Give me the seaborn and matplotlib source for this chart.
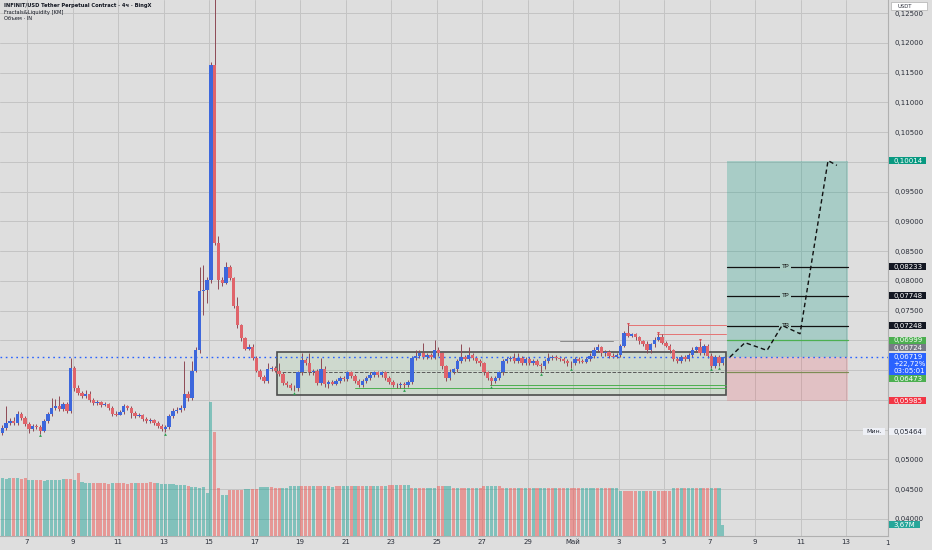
import matplotlib
matplotlib.use("Agg")
import numpy as np
import pandas as pd
import matplotlib.pyplot as plt
import seaborn as sns
from matplotlib.patches import Rectangle

# ---------------- data (4h candles, INFINIT/USDT) ----------------
first_open = 0.0544
closes = [
    0.0553, 0.0561, 0.0565, 0.0561, 0.0576, 0.0570, 0.0560, 0.0551, 0.0556, 0.0555,
    0.0548, 0.0565, 0.0576, 0.0587, 0.0590, 0.0585, 0.0593, 0.0581, 0.0654, 0.0619,
    0.0612, 0.0607, 0.0610, 0.0600, 0.0595, 0.0597, 0.0592, 0.0593, 0.0587, 0.0576,
    0.0575, 0.0580, 0.0590, 0.0587, 0.0578, 0.0573, 0.0575, 0.0568, 0.0565, 0.0566,
    0.0561, 0.0556, 0.0551, 0.0555, 0.0573, 0.0581, 0.0583, 0.0587, 0.0610, 0.0603,
    0.0649, 0.0683, 0.0782, 0.0784, 0.0801, 0.1163, 0.0863, 0.0801, 0.0797, 0.0823,
    0.0804, 0.0758, 0.0725, 0.0703, 0.0686, 0.0689, 0.0671, 0.0649, 0.0639, 0.0632,
    0.0652, 0.0654, 0.0649, 0.0644, 0.0629, 0.0625, 0.0620, 0.0619, 0.0646, 0.0667,
    0.0662, 0.0646, 0.0649, 0.0629, 0.0652, 0.0627, 0.0630, 0.0627, 0.0632, 0.0637,
    0.0635, 0.0646, 0.0640, 0.0632, 0.0625, 0.0632, 0.0637, 0.0642, 0.0646, 0.0642,
    0.0646, 0.0637, 0.0630, 0.0625, 0.0624, 0.0627, 0.0625, 0.0630, 0.0671, 0.0674,
    0.0678, 0.0672, 0.0676, 0.0672, 0.0684, 0.0678, 0.0656, 0.0637, 0.0647, 0.0651,
    0.0666, 0.0672, 0.0669, 0.0676, 0.0671, 0.0666, 0.0661, 0.0646, 0.0637, 0.0632,
    0.0637, 0.0646, 0.0666, 0.0669, 0.0671, 0.0666, 0.0671, 0.0662, 0.0669, 0.0662,
    0.0666, 0.0659, 0.0656, 0.0666, 0.0671, 0.0672, 0.0671, 0.0669, 0.0666, 0.0661,
    0.0662, 0.0669, 0.0666, 0.0664, 0.0669, 0.0674, 0.0684, 0.0688, 0.0678, 0.0681,
    0.0674, 0.0672, 0.0676, 0.0691, 0.0713, 0.0708, 0.0710, 0.0705, 0.0698, 0.0694,
    0.0683, 0.0693, 0.0701, 0.0706, 0.0696, 0.0691, 0.0683, 0.0669, 0.0666, 0.0672,
    0.0669, 0.0676, 0.0684, 0.0688, 0.0679, 0.0691, 0.0674, 0.0657, 0.0672, 0.0662,
    0.06719,
]
highs = [
    0.0558, 0.0590, 0.0570, 0.0571, 0.0581, 0.0580, 0.0573, 0.0563, 0.0560, 0.0560,
    0.0558, 0.0568, 0.0580, 0.0603, 0.0602, 0.0607, 0.0597, 0.0597, 0.0671, 0.0657,
    0.0624, 0.0615, 0.0617, 0.0614, 0.0603, 0.0600, 0.0598, 0.0597, 0.0595, 0.0590,
    0.0581, 0.0583, 0.0593, 0.0592, 0.0590, 0.0581, 0.0578, 0.0576, 0.0571, 0.0570,
    0.0568, 0.0565, 0.0560, 0.0558, 0.0576, 0.0587, 0.0588, 0.0592, 0.0666, 0.0614,
    0.0666, 0.0688, 0.0823, 0.0826, 0.0807, 0.1168, 0.1320, 0.0876, 0.0807, 0.0831,
    0.0826, 0.0807, 0.0772, 0.0728, 0.0706, 0.0694, 0.0694, 0.0674, 0.0652, 0.0642,
    0.0662, 0.0657, 0.0657, 0.0662, 0.0647, 0.0632, 0.0629, 0.0624, 0.0649, 0.0679,
    0.0671, 0.0679, 0.0652, 0.0652, 0.0671, 0.0656, 0.0634, 0.0634, 0.0635, 0.0640,
    0.0640, 0.0649, 0.0649, 0.0644, 0.0635, 0.0635, 0.0640, 0.0646, 0.0649, 0.0649,
    0.0649, 0.0649, 0.0640, 0.0634, 0.0629, 0.0630, 0.0630, 0.0634, 0.0674, 0.0683,
    0.0683, 0.0696, 0.0679, 0.0679, 0.0701, 0.0688, 0.0681, 0.0659, 0.0651, 0.0654,
    0.0669, 0.0694, 0.0676, 0.0689, 0.0679, 0.0674, 0.0669, 0.0664, 0.0649, 0.0640,
    0.0640, 0.0649, 0.0669, 0.0672, 0.0674, 0.0679, 0.0679, 0.0674, 0.0672, 0.0672,
    0.0669, 0.0669, 0.0662, 0.0669, 0.0679, 0.0676, 0.0676, 0.0674, 0.0672, 0.0669,
    0.0666, 0.0672, 0.0672, 0.0669, 0.0672, 0.0678, 0.0688, 0.0694, 0.0691, 0.0684,
    0.0684, 0.0678, 0.0679, 0.0694, 0.0716, 0.0725, 0.0713, 0.0713, 0.0708, 0.0701,
    0.0698, 0.0696, 0.0705, 0.0711, 0.0710, 0.0699, 0.0694, 0.0686, 0.0672, 0.0676,
    0.0676, 0.0679, 0.0688, 0.0691, 0.0699, 0.0694, 0.0694, 0.0678, 0.0676, 0.0676,
    0.0672,
]
lows = [
    0.0541, 0.0549, 0.0558, 0.0558, 0.0558, 0.0566, 0.0556, 0.0544, 0.0548, 0.0551,
    0.0543, 0.0546, 0.0561, 0.0573, 0.0583, 0.0581, 0.0581, 0.0578, 0.0578, 0.0615,
    0.0608, 0.0603, 0.0603, 0.0597, 0.0592, 0.0592, 0.0588, 0.0590, 0.0583, 0.0573,
    0.0573, 0.0575, 0.0576, 0.0583, 0.0570, 0.0570, 0.0571, 0.0565, 0.0561, 0.0561,
    0.0558, 0.0553, 0.0548, 0.0546, 0.0551, 0.0570, 0.0578, 0.0580, 0.0583, 0.0598,
    0.0600, 0.0646, 0.0679, 0.0742, 0.0762, 0.0797, 0.0860, 0.0787, 0.0792, 0.0794,
    0.0801, 0.0755, 0.0721, 0.0699, 0.0683, 0.0683, 0.0667, 0.0646, 0.0635, 0.0629,
    0.0629, 0.0649, 0.0646, 0.0640, 0.0625, 0.0622, 0.0617, 0.0614, 0.0615, 0.0642,
    0.0659, 0.0642, 0.0642, 0.0625, 0.0625, 0.0622, 0.0619, 0.0624, 0.0624, 0.0629,
    0.0632, 0.0632, 0.0637, 0.0629, 0.0622, 0.0622, 0.0629, 0.0634, 0.0639, 0.0639,
    0.0639, 0.0634, 0.0627, 0.0622, 0.0620, 0.0620, 0.0619, 0.0622, 0.0627, 0.0667,
    0.0671, 0.0669, 0.0669, 0.0669, 0.0669, 0.0674, 0.0652, 0.0632, 0.0634, 0.0644,
    0.0647, 0.0662, 0.0666, 0.0666, 0.0667, 0.0662, 0.0657, 0.0642, 0.0634, 0.0624,
    0.0629, 0.0634, 0.0642, 0.0662, 0.0666, 0.0662, 0.0662, 0.0659, 0.0659, 0.0659,
    0.0659, 0.0656, 0.0646, 0.0652, 0.0662, 0.0667, 0.0667, 0.0666, 0.0662, 0.0657,
    0.0654, 0.0659, 0.0662, 0.0661, 0.0661, 0.0666, 0.0671, 0.0681, 0.0674, 0.0674,
    0.0671, 0.0671, 0.0671, 0.0672, 0.0688, 0.0705, 0.0705, 0.0701, 0.0694, 0.0691,
    0.0679, 0.0679, 0.0689, 0.0698, 0.0693, 0.0688, 0.0679, 0.0666, 0.0662, 0.0662,
    0.0666, 0.0666, 0.0672, 0.0681, 0.0676, 0.0676, 0.0671, 0.0654, 0.0654, 0.0656,
    0.0659,
]
volumes_m = [
    19.3, 19.1, 19.4, 19.2, 19.3, 19.0, 19.2,
    18.7, 18.8, 18.6, 18.7, 18.5, 18.7, 18.8, 18.6, 18.7,
    19.0, 18.9, 19.1, 18.8, 21.0,
    17.9, 17.8, 17.7, 17.6, 17.7, 17.8, 17.6, 17.5, 17.7, 17.8, 17.7, 17.6,
    17.5, 17.7, 17.8, 17.6, 17.7, 17.8, 17.9, 17.7, 17.6, 17.5, 17.4, 17.3,
    17.2, 17.0, 17.1, 16.9, 16.8,
    16.3, 16.2, 16.1, 16.2, 14.3, 44.7, 34.7, 16.0, 13.7, 13.8,
    15.2, 15.3, 15.4, 15.3, 15.6, 15.7, 15.7, 15.8, 16.3, 16.2, 16.4, 16.3,
    16.0, 16.1, 16.0, 15.9,
    16.6, 16.7, 16.8, 16.7, 16.6, 16.7, 16.8, 16.7, 16.6, 16.7, 16.6, 16.5,
    16.7, 16.8, 16.7, 16.6, 16.7, 16.7, 16.8, 16.6, 16.7,
    16.7, 16.8, 16.7, 16.6, 16.7,
    17.0, 17.1, 17.0, 16.9, 17.0, 17.1,
    16.0, 16.1, 16.0, 15.9, 16.0, 16.1, 16.0,
    16.7, 16.8, 16.6, 16.7,
    16.0, 16.1, 16.0, 15.9, 16.0, 16.1, 16.0, 16.0,
    16.7, 16.6, 16.8, 16.7, 16.6,
    16.0, 16.1, 16.0, 15.9, 16.0, 16.1, 16.0, 15.9, 16.0, 16.1, 16.0, 16.0,
    15.9, 16.0, 16.1, 16.0, 15.9, 16.0, 16.1, 16.0, 16.0, 15.9, 16.0, 16.1,
    16.0, 15.9, 16.0, 16.1, 16.0, 16.0, 15.9,
    15.0, 15.1, 15.0, 14.9, 15.0, 15.1, 15.0, 14.9, 15.0, 15.1, 15.0, 15.0, 14.9, 15.0,
    16.0, 16.1, 16.0, 15.9, 16.0, 16.1, 16.0, 15.9, 16.0, 16.1, 16.0, 16.0, 15.9,
    3.67,
]
volume_dirs = (
    "gggrgrrggrrggggggrrg" "rgggrrrrrgrrrrrgrrrr" "rggggggggrggggggrrgg"
    "rrrrggrrgggrrrgggggr" "rrgrrgrgrrggrgrrgrgg" "rgrrgrggrgrrgggrrggr"
    "grrgrgrrgggrrgrrgrgr" "grggrrgrrgrrrggggrgr" "rgggrrrrggrrgrrrrgrg"
    "rggrgrrgrgg"
)
first_candle_day = 5.9167      # April day number of first candle centre
candles_per_day = 6
fractal_low_idx = [10, 43, 77, 106, 129, 142, 150, 187, 189]
fractal_high_idx = [165, 173, 184]

# range box and fractal/liquidity levels
box_days = (17.99, 37.73)
box_prices = (0.0608, 0.0681)
liq_levels = [  # (start_day, end_day, price, color, style)
    (17.99, 37.73, 0.0646, "#5a5a5a", "--"),
    (21.42, 37.73, 0.0619, "#4caf50", "-"),
    (27.35, 37.73, 0.0624, "#4caf50", "-"),
    (30.43, 32.76, 0.0698, "#8a8a8a", "-"),
    (33.42, 37.73, 0.0725, "#e57373", "-"),
    (34.69, 37.73, 0.0711, "#e57373", "-"),
]

# long position tool
pos_days = (37.77, 43.09)
entry_price = 0.06724
target_price = 0.10014
stop_price = 0.05985
tp_levels = [0.08233, 0.07748, 0.07248]
tp_names = ["TP", "TP", "TR"]
level_green = 0.06999
level_olive = 0.06473
last_price = 0.06719

# projected path
proj_days = [37.90, 38.56, 39.53, 40.19, 40.98, 42.21, 42.60]
proj_prices = [0.06719, 0.0696, 0.0683, 0.0725, 0.0711, 0.1002, 0.0994]

date_ticks = [7, 9, 11, 13, 15, 17, 19, 21, 23, 25, 27, 29, 31, 33, 35, 37, 39, 41, 43]
date_labels = ["7", "9", "11", "13", "15", "17", "19", "21", "23", "25", "27", "29",
               "Май", "3", "5", "7", "9", "11", "13"]
price_ticks = [0.125, 0.12, 0.115, 0.11, 0.105, 0.10, 0.095, 0.09, 0.085, 0.08,
               0.075, 0.07, 0.065, 0.06, 0.055, 0.05, 0.045, 0.04]
hidden_ticks = [0.10, 0.07, 0.065, 0.06, 0.055]

# ---------------- styling ----------------
BG = "#dedede"
GRID = "#c4c4c4"
UP = "#3d67dc"
DOWN = "#e0646b"
WICK = "#8e4a55"
TXT = "#2a2e39"

sns.set_theme(style="whitegrid")
plt.rcParams["font.family"] = ["DejaVu Sans"]

W, H = 932, 550
fig = plt.figure(figsize=(W / 100, H / 100), dpi=100, facecolor=BG)
ax = fig.add_axes([0, 14 / H, 888 / W, 536 / H])
ax.set_facecolor(BG)
ax2 = ax.twinx()
ax2.patch.set_visible(False)

n = min(len(closes), len(highs), len(lows), len(volumes_m), len(volume_dirs))
opens = [first_open] + closes[:n - 1]
days = [first_candle_day + i / candles_per_day for i in range(n)]
df = pd.DataFrame({
    "day": days, "open": opens, "close": closes[:n], "high": highs[:n],
    "low": lows[:n], "vol": volumes_m[:n],
    "vdir": ["up" if c == "g" else "down" for c in volume_dirs[:n]],
})
df["up"] = df["close"] >= df["open"]
df["body_lo"] = df[["open", "close"]].min(axis=1)
df["body_h"] = (df["close"] - df["open"]).abs().clip(lower=0.00009)
df["wlo"] = df[["low", "open", "close"]].min(axis=1)
df["whi"] = df[["high", "open", "close"]].max(axis=1)

# volume (seaborn bars on native numeric scale)
sns.barplot(data=df, x="day", y="vol", hue="vdir", native_scale=True, dodge=False,
            palette={"up": (38 / 255, 166 / 255, 154 / 255, 0.5),
                     "down": (239 / 255, 83 / 255, 80 / 255, 0.5)},
            width=0.8, errorbar=None, legend=False, ax=ax2, saturation=1)
for p in ax2.patches:
    p.set_edgecolor("none")
ax2.set_ylim(0, 536 / 3.0)
ax2.set_yticks([])
ax2.set_ylabel("")
ax2.set_xlabel("")
for s in ax2.spines.values():
    s.set_visible(False)

# candles
ax.vlines(df["day"], df["wlo"], df["whi"], color=WICK, lw=0.7, zorder=3)
ax.bar(df["day"], df["body_h"], bottom=df["body_lo"], width=0.15,
       color=np.where(df["up"], UP, DOWN), edgecolor="none", zorder=4)

# fractal markers
ax.scatter(df["day"].iloc[fractal_low_idx], df["low"].iloc[fractal_low_idx] - 0.0003,
           marker="^", s=4, color="#2e9e4f", zorder=5, linewidths=0)
ax.scatter(df["day"].iloc[fractal_high_idx], df["high"].iloc[fractal_high_idx] + 0.0002,
           marker="v", s=4, color="#d9434b", zorder=5, linewidths=0)

# range box and levels
ax.add_patch(Rectangle((box_days[0], box_prices[0]), box_days[1] - box_days[0],
                       box_prices[1] - box_prices[0], facecolor=(0.45, 0.75, 0.45, 0.14),
                       edgecolor="#4d4d4d", lw=1.2, zorder=2))
for d0, d1, pr, col, ls in liq_levels:
    ax.plot([d0, d1], [pr, pr], color=col, lw=0.7, ls=ls, zorder=2.5)

# position tool
ax.add_patch(Rectangle((pos_days[0], entry_price), pos_days[1] - pos_days[0],
                       target_price - entry_price,
                       facecolor=(8 / 255, 153 / 255, 129 / 255, 0.25), edgecolor="none", zorder=1.5))
ax.add_patch(Rectangle((pos_days[0], stop_price), pos_days[1] - pos_days[0],
                       entry_price - stop_price,
                       facecolor=(242 / 255, 54 / 255, 69 / 255, 0.17), edgecolor="none", zorder=1.5))
mid_day = 40.32
for lv, name in zip(tp_levels, tp_names):
    ax.plot(pos_days, [lv, lv], color="#111111", lw=0.9, zorder=3)
    ax.text(mid_day, lv, name, fontsize=4.6, ha="center", va="center", color="#111111",
            zorder=4, bbox=dict(boxstyle="square,pad=0.25", fc="#a9cdc4", ec="none"))
ax.plot(pos_days, [level_green, level_green], color="#4caf50", lw=0.9, zorder=3)
ax.plot(pos_days, [level_olive, level_olive], color="#7d8c55", lw=0.9, zorder=3)

# last price line
ax.axhline(last_price, color="#2962ff", lw=1.0, ls=(0, (1.2, 2.6)), zorder=3)

# projection
sns.lineplot(x=proj_days, y=proj_prices, sort=False, ax=ax, color="#111111",
             lw=1.0, linestyle=(0, (3.2, 2.2)), zorder=6)

# axes, grid, ticks
ax.set_xlim(5.813, 44.846)
ax.set_ylim(0.0371, 0.1272)
ax.set_xticks(date_ticks)
ax.set_xticklabels(date_labels)
ax.set_yticks(price_ticks)
ax.set_yticklabels(["" if any(abs(t - h) < 1e-9 for h in hidden_ticks)
                    else f"{t:.5f}".replace(".", ",") for t in price_ticks])
ax.yaxis.tick_right()
ax.tick_params(axis="y", length=0, pad=5, labelsize=5, labelcolor=TXT)
ax.tick_params(axis="x", length=0, pad=2.2, labelsize=5, labelcolor=TXT)
ax.set_xlabel("")
ax.set_ylabel("")
ax.grid(True, color=GRID, lw=0.7)
ax.set_axisbelow(True)
for k in ("left", "top"):
    ax.spines[k].set_visible(False)
for k in ("right", "bottom"):
    ax.spines[k].set_visible(True)
    ax.spines[k].set_color("#b0b0b0")
    ax.spines[k].set_linewidth(0.8)

fig.text(887 / W, 1 - 543 / H, "1", fontsize=5, color=TXT, ha="center", va="center")

# header
fig.text(4 / W, 1 - 6 / H, "INFINIT/USD Tether Perpetual Contract · 4ч · BingX",
         fontsize=3.7, fontweight="bold", color="#131722", va="center")
fig.text(4 / W, 1 - 12.5 / H, "Fractals&Liquidity [KM]", fontsize=3.7, color="#131722", va="center")
fig.text(4 / W, 1 - 18.5 / H, "Объем · IN", fontsize=3.7, color="#131722", va="center")

# right-scale labels
def fig_y(axis, value):
    return axis.transData.transform((0, value))[1] / H

def scale_label(yf, text, fc, tc="white", x0=889, w=37, h=7, ec="none"):
    fig.add_artist(Rectangle((x0 / W, yf - h / 2 / H), w / W, h / H, transform=fig.transFigure,
                             facecolor=fc, edgecolor=ec, lw=0.5, zorder=10))
    fig.text((x0 + 4) / W, yf, text, fontsize=5, color=tc, ha="left", va="center", zorder=11)

labels = [
    (0.10014, "0,10014", "#089981", 0),
    (0.08233, "0,08233", "#131722", 0),
    (0.07748, "0,07748", "#131722", 0),
    (0.07248, "0,07248", "#131722", 0),
    (0.06999, "0,06999", "#4caf50", 0),
    (0.06724, "0,06724", "#787b86", 9),
    (0.06473, "0,06473", "#4caf50", -7),
    (0.05985, "0,05985", "#f23645", 0),
]
for val, txt, col, dy in labels:
    scale_label(fig_y(ax, val) + dy / H, txt, col)

# current price block
yc = fig_y(ax, last_price) - 7.5 / H
fig.add_artist(Rectangle((889 / W, yc - 11 / H), 37 / W, 22 / H, transform=fig.transFigure,
                         facecolor="#2962ff", edgecolor="none", zorder=10))
for off, t in ((7, "0,06719"), (0, "+22,72%"), (-7, "03:05:01")):
    fig.text(893 / W, yc + off / H, t, fontsize=5, color="white", ha="left", va="center", zorder=11)

# low marker
ymin = fig_y(ax, 0.05464)
scale_label(ymin, "0,05464", "#eef0f6", tc=TXT)
fig.add_artist(Rectangle((863 / W, ymin - 3.5 / H), 22 / W, 7 / H, transform=fig.transFigure,
                         facecolor="#eef0f6", edgecolor="none", zorder=10))
fig.text(866 / W, ymin, "Мин.", fontsize=4.5, color=TXT, ha="left", va="center", zorder=11)

# volume label
scale_label(fig_y(ax2, volumes_m[n - 1]), "3,67M", "#26a69a", w=31)

# currency box
fig.add_artist(Rectangle((891 / W, 1 - 10 / H), 36 / W, 8 / H, transform=fig.transFigure,
                         facecolor="white", edgecolor="#b0b0b0", lw=0.5, zorder=10))
fig.text(897 / W, 1 - 6 / H, "USDT", fontsize=3.8, color=TXT, ha="left", va="center", zorder=11)

fig.savefig("out.png", dpi=100, facecolor=BG)
